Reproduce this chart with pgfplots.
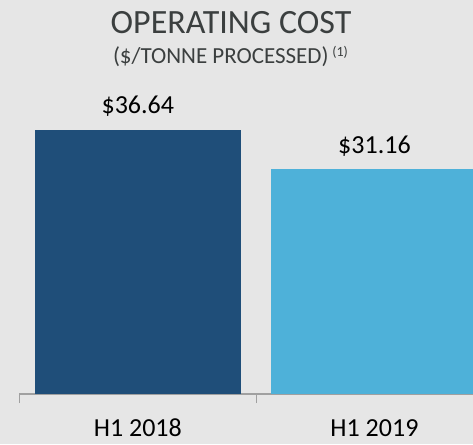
\documentclass[border=0pt]{standalone}
\usepackage{fontspec}
\setmainfont{Carlito}
\usepackage{pgfplots}
\pgfplotsset{compat=1.18}
\definecolor{bgcol}{HTML}{E6E6E6}
\definecolor{darkbar}{HTML}{1F4E79}
\definecolor{lightbar}{HTML}{4EB1D9}
\definecolor{titlecol}{HTML}{3B3F3F}
\definecolor{axiscol}{HTML}{A0A0A0}
\begin{document}
\begin{tikzpicture}[x=1pt,y=1pt]
  \path[use as bounding box, fill=bgcol] (0,0) rectangle (473,444);
  \node[anchor=base, font=\fontsize{34}{34}\selectfont, text=titlecol] at (231,410.5) {OPERATING COST};
  \node[anchor=base, font=\fontsize{23}{23}\selectfont, text=titlecol] at (230.5,380.5)
    {(\$/TONNE PROCESSED)\,\raisebox{7pt}{\fontsize{14}{14}\selectfont(1)}};
  \begin{axis}[
      at={(19.5pt,50pt)}, anchor=south west,
      scale only axis,
      width=453.5pt, height=294pt,
      xmin=-0.5, xmax=1.4165,
      ymin=0, ymax=40.8,
      axis y line=none,
      axis x line*=bottom,
      x axis line style={draw=axiscol, line width=1.5pt, -},
      xtick={0,1},
      xticklabels={H1 2018,H1 2019},
      minor xtick={-0.5,0.5},
      xtick pos=bottom,
      tick align=outside,
      major tick length=0pt,
      minor tick length=9pt,
      minor tick style={draw=axiscol, line width=1.2pt},
      xticklabel style={font=\fontsize{26}{26}\selectfont, anchor=base, yshift=-42pt},
      ybar, bar width=206pt, bar shift=0pt,
      /pgf/number format/assume math mode=true,
      nodes near coords={\$\pgfmathprintnumber[fixed,fixed zerofill,precision=2]{\pgfplotspointmeta}},
      nodes near coords style={font=\fontsize{26}{26}\selectfont, anchor=base, yshift=16pt, text=black},
    ]
    \addplot[fill=darkbar, draw=none] coordinates {(0,36.64)};
    \addplot[fill=lightbar, draw=none] coordinates {(1,31.16)};
  \end{axis}
\end{tikzpicture}
\end{document}
